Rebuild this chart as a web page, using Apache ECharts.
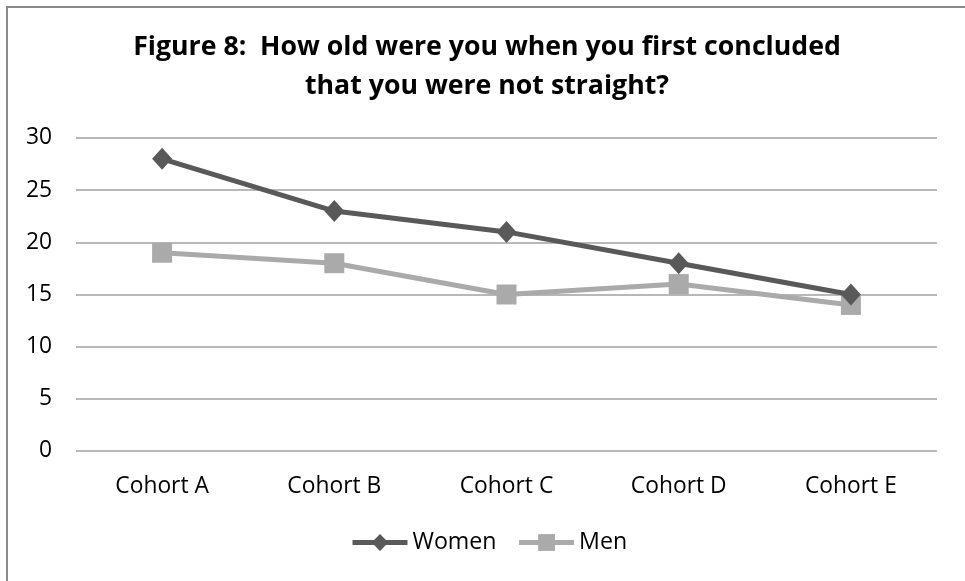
<!DOCTYPE html>
<html>
<head>
<meta charset="utf-8">
<script src="https://cdn.jsdelivr.net/npm/echarts@6/dist/echarts.min.js"></script>
<style>
  html, body { margin: 0; padding: 0; background: #ffffff; }
  #chart { width: 965px; height: 581px; }
</style>
</head>
<body>
<div id="chart"></div>
<script>
// Age at which respondents first concluded they were not straight, by cohort
const cohorts = ['Cohort A', 'Cohort B', 'Cohort C', 'Cohort D', 'Cohort E'];
const women = [28, 23, 21, 18, 15];
const men = [19, 18, 15, 16, 14];
const yTicks = [0, 5, 10, 15, 20, 25, 30];

const FONT = '"Open Sans", "Noto Sans", sans-serif';
const WOMEN_COLOR = '#595959';
const MEN_COLOR = '#aaaaaa';

const chart = echarts.init(document.getElementById('chart'), null, { renderer: 'canvas' });

chart.setOption({
  backgroundColor: '#ffffff',
  animation: false,
  textStyle: { fontFamily: FONT },
  title: {
    text: 'Figure 8:  How old were you when you first concluded\nthat you were not straight?',
    left: 487,
    textAlign: 'center',
    top: 28,
    padding: 0,
    textStyle: {
      fontFamily: FONT,
      fontSize: 26.7,
      fontWeight: 'bold',
      color: '#000000',
      lineHeight: 39
    }
  },
  graphic: [{
    type: 'rect',
    shape: { x: 7, y: 7, width: 1200, height: 1000 },
    style: { fill: 'none', stroke: '#8a8a8a', lineWidth: 2 },
    silent: true,
    z: -1
  }],
  legend: {
    bottom: 27,
    left: 350,
    padding: 0,
    itemWidth: 55,
    itemHeight: 21,
    itemGap: 20,
    lineStyle: { width: 5 },
    textStyle: { fontFamily: FONT, fontSize: 23.2, color: '#000000', padding: [0, 0, 0, 0] },
    data: ['Women', 'Men']
  },
  grid: { left: 76, right: 28, top: 138, bottom: 130, containLabel: false },
  xAxis: {
    type: 'category',
    data: cohorts,
    boundaryGap: true,
    axisLine: { show: false },
    axisTick: { show: false },
    axisLabel: { fontFamily: FONT, fontSize: 22.8, color: '#000000', margin: 24 }
  },
  yAxis: {
    type: 'value',
    min: yTicks[0],
    max: yTicks[yTicks.length - 1],
    interval: 5,
    axisLine: { show: false },
    axisTick: { show: false },
    axisLabel: { fontFamily: FONT, fontSize: 22.8, color: '#000000', margin: 24 },
    splitLine: { lineStyle: { color: '#a0a0a0', width: 1.5 } }
  },
  series: [
    {
      name: 'Women',
      type: 'line',
      data: women,
      symbol: 'diamond',
      symbolSize: [20, 22],
      lineStyle: { color: WOMEN_COLOR, width: 5 },
      itemStyle: { color: WOMEN_COLOR },
      z: 3
    },
    {
      name: 'Men',
      type: 'line',
      data: men,
      symbol: 'rect',
      symbolSize: 20,
      lineStyle: { color: MEN_COLOR, width: 5 },
      itemStyle: { color: MEN_COLOR },
      z: 2
    }
  ]
});
</script>
</body>
</html>
